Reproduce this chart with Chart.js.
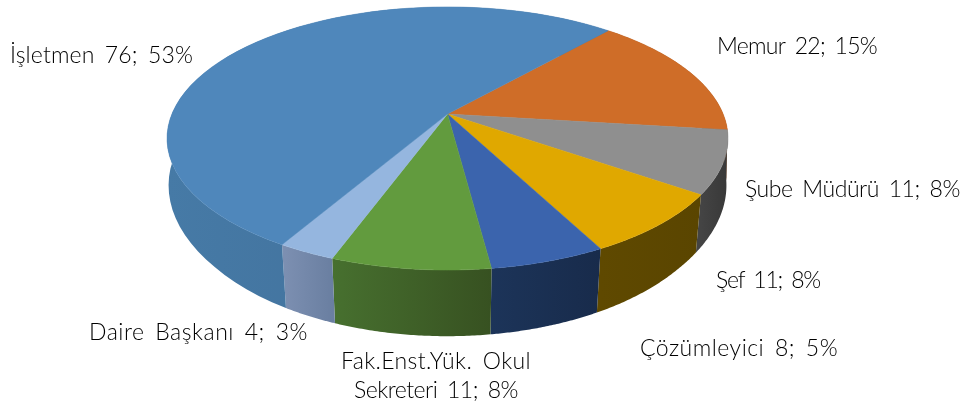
<!DOCTYPE html>
<html>
<head>
<meta charset="utf-8">
<style>
  html, body { margin: 0; padding: 0; background: #fff; }
  #wrap { width: 970px; height: 410px; }
</style>
<script src="https://cdn.jsdelivr.net/npm/chart.js@4"></script>
</head>
<body>
<div id="wrap"><canvas id="pie" width="970" height="410"></canvas></div>
<script>
// clockwise from the first slice, as in the source workbook
var categories = ["Memur", "Şube Müdürü", "Şef", "Çözümleyici", "Fak.Enst.Yük. Okul Sekreteri", "Daire Başkanı", "İşletmen"];
var counts = [22, 11, 11, 8, 11, 4, 76];
var percents = [15, 8, 8, 5, 8, 3, 53];

var topColors = ["#cf6d28", "#8f8f8f", "#e0a800", "#3b64ad", "#629b3e", "#95b6df", "#4f87bb"];
var wallLeft = ["#8a4a1b", "#444444", "#5f4900", "#1c3459", "#47702f", "#7d90b2", "#467aa6"];
var wallRight = ["#8a4a1b", "#383838", "#5a4500", "#182b4b", "#375121", "#6a7fa1", "#3e6a94"];

// label text lines, left x and baseline, same order as categories
var labelLines = [
  ["Memur 22; 15%"], ["Şube Müdürü 11; 8%"], ["Şef 11; 8%"], ["Çözümleyici 8; 5%"],
  ["Fak.Enst.Yük. Okul", "Sekreteri 11; 8%"], ["Daire Başkanı 4; 3%"], ["İşletmen 76; 53%"]
];
var labelBoxes = [
  [[717, 54, 160]], [[745, 197, 215]], [[716, 288, 104]], [[640, 356, 198]],
  [[341, 369, 190], [354, 398, 164]], [[89, 340, 219]], [[10, 63, 183]]
];

// perspective of the disc
var TILT = 0.186, SX = 275.6, SY = 127;
// rim below the disc
var RIM_X = 0.976, RIM_SLOPE = 0.00025, RIM_Y = 1.11, RIM_D = 49;

function project(el, a, frac) {
  // chart.js angles: 0 = +x, clockwise on screen
  var X = Math.cos(a) * frac, Y = Math.sin(a) * frac;
  var w = 1 - TILT * Y;
  return { x: el.x + SX * X / w, y: el.y + SY * Y / w };
}

function rim(el, p) {
  var dy = p.y - el.y;
  var sx = Math.max(RIM_X, 1 - RIM_SLOPE * Math.max(dy, 0));
  return { x: el.x + (p.x - el.x) * sx, y: el.y + dy * RIM_Y + RIM_D };
}

var pie3d = {
  id: "pie3d",
  beforeDatasetDraw: function (chart, args) {
    var ctx = chart.ctx;
    var arcs = args.meta.data;
    var i, j, n = 60;

    // walls first, the disc covers whatever lies behind it
    for (i = 0; i < arcs.length; i++) {
      var el = arcs[i];
      var pts = [];
      for (j = 0; j <= n; j++) {
        pts.push(project(el, el.startAngle + (el.endAngle - el.startAngle) * j / n, 1));
      }
      var minX = 1e9, maxX = -1e9;
      ctx.beginPath();
      pts.forEach(function (p, k) {
        minX = Math.min(minX, p.x);
        maxX = Math.max(maxX, p.x);
        if (k === 0) ctx.moveTo(p.x, p.y); else ctx.lineTo(p.x, p.y);
      });
      for (j = n; j >= 0; j--) {
        var q = rim(el, pts[j]);
        ctx.lineTo(q.x, q.y);
      }
      ctx.closePath();
      var g = ctx.createLinearGradient(minX, 0, maxX, 0);
      g.addColorStop(0, wallLeft[i]);
      g.addColorStop(1, wallRight[i]);
      ctx.fillStyle = g;
      ctx.fill();
    }

    for (i = 0; i < arcs.length; i++) {
      var a = arcs[i];
      ctx.beginPath();
      ctx.moveTo(a.x, a.y);
      for (j = 0; j <= n; j++) {
        var p = project(a, a.startAngle + (a.endAngle - a.startAngle) * j / n, 1);
        ctx.lineTo(p.x, p.y);
      }
      ctx.closePath();
      ctx.fillStyle = topColors[i];
      ctx.strokeStyle = topColors[i];
      ctx.lineWidth = 0.5;
      ctx.fill();
      ctx.stroke();
    }
    return false;
  },
  afterDraw: function (chart) {
    var ctx = chart.ctx;
    ctx.save();
    ctx.fillStyle = "#000";
    ctx.textBaseline = "alphabetic";
    ctx.font = "300 23px Lato";
    ctx.wordSpacing = "4px";
    labelLines.forEach(function (lines, i) {
      lines.forEach(function (txt, j) {
        var box = labelBoxes[i][j];
        // stretch the letter spacing so the line fills its width
        ctx.letterSpacing = "0px";
        var extra = (box[2] - ctx.measureText(txt).width) / txt.length;
        ctx.letterSpacing = extra.toFixed(2) + "px";
        ctx.fillText(txt, box[0], box[1]);
      });
    });
    ctx.restore();
  }
};

new Chart(document.getElementById("pie"), {
  type: "pie",
  data: {
    labels: categories,
    datasets: [{ data: counts, backgroundColor: topColors, borderWidth: 0 }]
  },
  options: {
    responsive: false,
    animation: false,
    rotation: 41.6,
    layout: { padding: { left: 0, top: 0, right: 75, bottom: 182 } },
    plugins: { legend: { display: false }, tooltip: { enabled: false } }
  },
  plugins: [pie3d]
});
</script>
</body>
</html>
